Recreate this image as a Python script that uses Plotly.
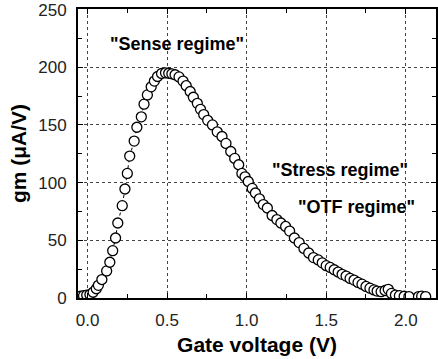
import plotly.graph_objects as go

gate_v = [-0.045, -0.025, -0.005, 0.015, 0.035, 0.055, 0.068, 0.09, 0.12, 0.14, 0.158, 0.176, 0.19, 0.218, 0.235,
          0.25, 0.265, 0.293, 0.31, 0.338, 0.355, 0.376, 0.40, 0.42, 0.44, 0.465, 0.49, 0.51, 0.53, 0.55,
          0.575, 0.60, 0.62, 0.645, 0.665, 0.69, 0.71, 0.73, 0.755, 0.785, 0.815, 0.845, 0.87, 0.90, 0.925,
          0.95, 0.97, 0.99, 1.01, 1.035, 1.055, 1.08, 1.105, 1.13, 1.16, 1.19, 1.215, 1.245, 1.27, 1.30,
          1.33, 1.36, 1.39, 1.42, 1.45, 1.475, 1.50, 1.525, 1.55, 1.575, 1.60, 1.625, 1.65, 1.675, 1.70,
          1.725, 1.75, 1.775, 1.80, 1.82, 1.845, 1.87, 1.89, 1.91, 1.935, 1.96, 1.99, 2.02, 2.08, 2.10, 2.125]
gm = [1.5, 2.0, 2.5, 3.0, 5.0, 8.0, 11.0, 16.0, 23.5, 31.0, 41.0, 52.0, 65.0, 80.0, 94.5,
      108.0, 123.0, 136.0, 148.0, 157.0, 168.0, 176.0, 183.0, 188.0, 192.0, 194.6, 195.2, 194.8, 194.3, 193.5,
      191.6, 188.0, 184.0, 179.0, 174.0, 168.7, 163.5, 159.0, 154.0, 150.0, 144.0, 140.0, 134.0, 127.0, 121.0,
      115.5, 108.0, 105.0, 101.0, 95.0, 91.0, 86.0, 81.0, 78.0, 71.5, 68.0, 65.0, 62.0, 58.0, 52.0,
      48.0, 43.0, 39.0, 35.0, 33.0, 30.5, 28.0, 26.5, 24.5, 22.5, 20.5, 19.0, 17.0, 15.5, 13.5,
      12.0, 10.0, 8.5, 7.0, 6.0, 5.5, 6.5, 7.5, 4.0, 2.5, 2.0, 1.5, 1.2, 1.2, 1.6, 1.2]

x_ticks = [0.0, 0.5, 1.0, 1.5, 2.0]
x_tick_labels = ["0.0", "0.5", "1.0", "1.5", "2.0"]
y_ticks = [0, 50, 100, 150, 200, 250]
y_tick_labels = ["0", "50", "100", "150", "200", "250"]

notes = ['"Sense regime"', '"Stress regime"', '"OTF regime"']
note_x = [0.565, 1.585, 1.69]
note_y = [220, 111, 79]

fig = go.Figure()
fig.add_trace(go.Scatter(
    x=gate_v, y=gm, mode="lines+markers",
    line=dict(color="black", width=1, dash="dot"),
    marker=dict(symbol="circle", size=10, color="white",
                line=dict(color="black", width=1.3)),
    showlegend=False, cliponaxis=True,
))

for t, xx, yy in zip(notes, note_x, note_y):
    fig.add_annotation(x=xx, y=yy, text="<b>" + t + "</b>", showarrow=False,
                       font=dict(family="Liberation Sans, Arial", size=18, color="black"))

axis_common = dict(
    showline=True, linecolor="black", linewidth=2, mirror="ticks",
    ticks="inside", ticklen=5, tickwidth=1, tickcolor="black",
    showgrid=True, gridcolor="#444444", gridwidth=1, griddash="dot",
    zeroline=False,
    tickfont=dict(family="Liberation Sans, Arial", size=17, color="#222222"),
    ticklabelstandoff=6, ticklabeloverflow="allow",
)

fig.update_xaxes(
    **axis_common,
    range=[-0.06, 2.19], tickvals=x_ticks, ticktext=x_tick_labels,
    minor=dict(ticks="inside", ticklen=4, dtick=0.25, tick0=0, tickcolor="black", showgrid=False),
    title=dict(text="<b>Gate voltage (V)</b>", standoff=8,
               font=dict(family="Liberation Sans, Arial", size=21, color="black")),
)
fig.update_yaxes(
    **axis_common,
    range=[0, 250.5], tickvals=y_ticks, ticktext=y_tick_labels,
    minor=dict(ticks="inside", ticklen=4, dtick=25, tick0=0, tickcolor="black", showgrid=False),
    title=dict(text="<b>gm (μA/V)</b>", standoff=6,
               font=dict(family="Liberation Sans, Arial", size=21, color="black")),
)

fig.update_layout(
    width=438, height=359,
    margin=dict(l=78, r=0, t=9, b=61),
    paper_bgcolor="white", plot_bgcolor="white",
)

fig.write_html("out.html")
